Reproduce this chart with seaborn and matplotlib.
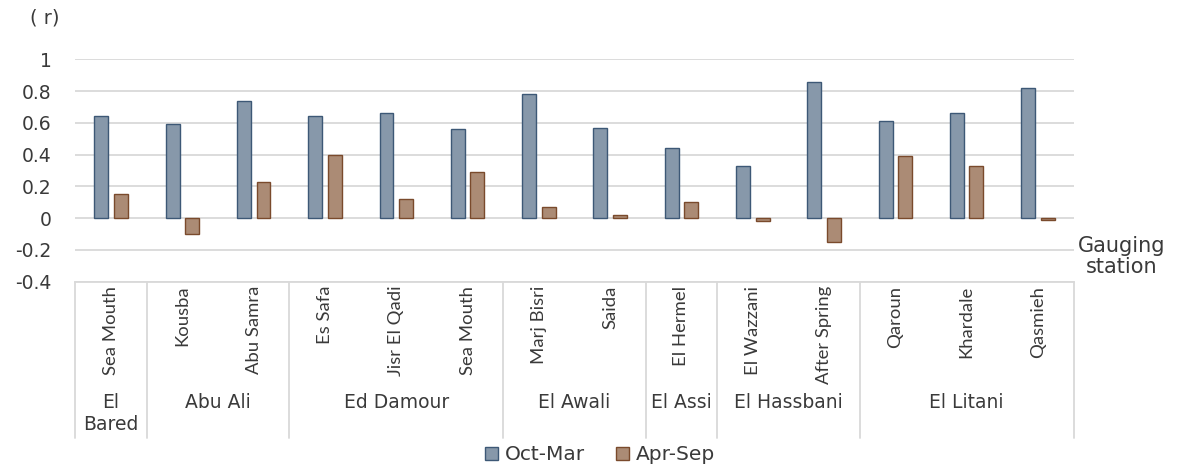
import pandas as pd
import matplotlib.pyplot as plt
import matplotlib.transforms as mtransforms
import seaborn as sns

sns.set_style("white")
plt.rcParams['font.family'] = ['DejaVu Sans']

# data
stations = ["Sea Mouth", "Kousba", "Abu Samra", "Es Safa", "Jisr El Qadi",
            "Sea Mouth ", "Marj Bisri", "Saida", "El Hermel", "El Wazzani",
            "After Spring", "Qaroun", "Khardale", "Qasmieh"]
oct_mar = [0.64, 0.59, 0.74, 0.64, 0.66, 0.56, 0.78, 0.57, 0.44, 0.33, 0.86, 0.61, 0.66, 0.82]
apr_sep = [0.15, -0.10, 0.23, 0.40, 0.12, 0.29, 0.07, 0.02, 0.10, -0.02, -0.15, 0.39, 0.33, -0.01]
rivers = ["El\nBared", "Abu Ali", "Ed Damour", "El Awali", "El Assi", "El Hassbani", "El Litani"]
river_counts = [1, 2, 3, 2, 1, 2, 3]
seasons = ["Oct-Mar", "Apr-Sep"]

df = pd.DataFrame({
    "station": stations * 2,
    "r": oct_mar + apr_sep,
    "season": [seasons[0]] * len(stations) + [seasons[1]] * len(stations),
})

fills = ["#8198b0", "#b48a6c"]
edges = ["#3d5876", "#7a4a2c"]
txt = "#3a3a3a"
grid = "#d9d9d9"

fig = plt.figure(figsize=(11.79, 4.70), dpi=100)
ax = fig.add_axes([0.064, 0.401, 0.8466, 0.4728])

sns.barplot(data=df, x="station", y="r", hue="season", palette=fills,
            width=0.55, gap=0.29, ax=ax, legend=True)
for cont, ec in zip(ax.containers, edges):
    for bar in cont:
        bar.set_edgecolor(ec)
        bar.set_linewidth(1.0)

ax.set_ylim(-0.4, 1.0)
ax.set_xlim(-0.5, len(stations) - 0.5)
ax.set_yticks([-0.4, -0.2, 0, 0.2, 0.4, 0.6, 0.8, 1.0])
ax.set_yticklabels(["-0.4", "-0.2", "0", "0.2", "0.4", "0.6", "0.8", "1"],
                   fontsize=13.5, color=txt)
ax.yaxis.grid(True, color=grid, linewidth=1.3)
ax.set_axisbelow(True)
ax.tick_params(axis="y", length=0, pad=17)
ax.tick_params(axis="x", length=0, pad=3)
ax.set_xticks(range(len(stations)))
ax.set_xticklabels([s.strip() for s in stations], rotation=90, va="top",
                   ha="center", fontsize=13.3, color=txt, family="Lato")
ax.set_xlabel("")
ax.set_ylabel("")
for s in ["top", "right", "left"]:
    ax.spines[s].set_visible(False)
ax.spines["bottom"].set_color(grid)
ax.spines["bottom"].set_linewidth(1.3)

# river group boxes under the station labels
tr = mtransforms.blended_transform_factory(ax.transData, ax.transAxes)
edge = -0.5
ax.plot([edge, edge], [0, -0.704], color=grid, lw=1.3, transform=tr, clip_on=False)
for name, n in zip(rivers, river_counts):
    mid = edge + n / 2
    edge += n
    ax.plot([edge, edge], [0, -0.704], color=grid, lw=1.3, transform=tr, clip_on=False)
    ax.text(mid, -0.5, name, transform=tr, ha="center", va="top",
            fontsize=13.5, color=txt, linespacing=1.25)

ax.text(-0.0305, 1.185, "( r)", transform=ax.transAxes, ha="center", va="center",
        fontsize=14, color=txt)
fig.text(0.951, 0.454, "Gauging\nstation", ha="center", va="center",
         fontsize=15, color=txt, linespacing=1.1)

handles, labels = ax.get_legend_handles_labels()
for h, ec in zip(handles, edges):
    h.set_edgecolor(ec)
ax.legend(handles, labels, loc="center", bbox_to_anchor=(0.509, 0.032),
          bbox_transform=fig.transFigure, ncol=2, frameon=False,
          fontsize=14.5, handlelength=0.65, handleheight=0.65, columnspacing=1.5,
          handletextpad=0.35, labelcolor=txt)

fig.savefig("out.png", dpi=100)
